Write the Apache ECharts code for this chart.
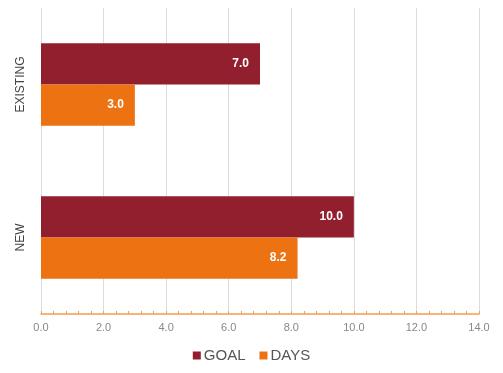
<!DOCTYPE html>
<html><head><meta charset="utf-8">
<script src="https://cdn.jsdelivr.net/npm/echarts@6/dist/echarts.min.js"></script>
<style>html,body{margin:0;padding:0;background:#fff}#c{width:503px;height:373px}</style>
</head><body><div id="c"></div>
<script>
const categories = ['EXISTING', 'NEW'];
const goal = [7.0, 10.0];
const days = [3.0, 8.2];
const xTicks = { min: 0, max: 14, interval: 2 };

const chart = echarts.init(document.getElementById('c'), null, { renderer: 'canvas' });
const label = {
  show: true, position: 'insideRight', color: '#fff', fontWeight: 'bold',
  fontSize: 12, fontFamily: 'Liberation Sans, Arial', distance: 11,
  formatter: p => p.value.toFixed(1)
};
chart.setOption({
  animation: false,
  grid: { left: 41, right: 24, top: 8, bottom: 59 },
  legend: {
    bottom: 5, left: 'center', itemWidth: 8, itemHeight: 8, itemGap: 14,
    icon: 'rect',
    textStyle: { color: '#555', fontSize: 15, fontFamily: 'Liberation Sans, Arial', padding: [0, 0, 0, -2] },
    data: ['GOAL', 'DAYS']
  },
  xAxis: {
    type: 'value', min: xTicks.min, max: xTicks.max, interval: xTicks.interval,
    axisLine: { show: true, lineStyle: { color: '#f0a050', width: 1.5 } },
    axisTick: { show: true, length: 3, inside: true, lineStyle: { color: '#f0a050' } },
    minorTick: { show: true, splitNumber: 5, length: 3, lineStyle: { color: '#f0a050' } },
    splitLine: { show: true, lineStyle: { color: '#dcdcdc' } },
    axisLabel: { color: '#888', fontSize: 11, fontFamily: 'Liberation Sans, Arial', margin: 8,
      formatter: v => v.toFixed(1) }
  },
  yAxis: {
    type: 'category', data: categories, inverse: true,
    axisLine: { show: false }, axisTick: { show: false },
    axisLabel: { rotate: 90, color: '#444', fontSize: 12, fontFamily: 'Liberation Sans, Arial', margin: 14 }
  },
  series: [
    { name: 'GOAL', type: 'bar', data: goal, barWidth: '27%', barGap: '0%',
      itemStyle: { color: '#921f2e' }, label },
    { name: 'DAYS', type: 'bar', data: days, barWidth: '27%', barGap: '0%',
      itemStyle: { color: '#ec7212' }, label }
  ]
});
</script></body></html>
